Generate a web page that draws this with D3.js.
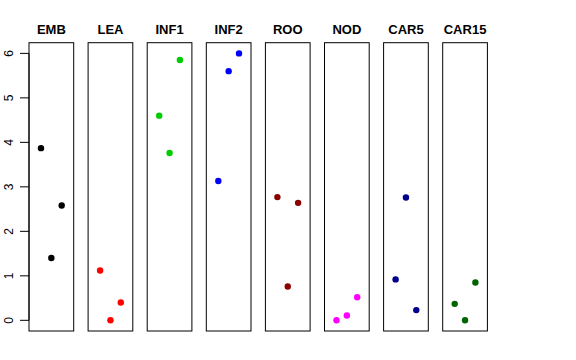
<!DOCTYPE html>
<html>
<head>
<meta charset="utf-8">
<script src="https://cdn.jsdelivr.net/npm/d3@7"></script>
<style>
  body { margin: 0; background: #fff; }
  svg { display: block; font-family: "Liberation Sans", Arial, sans-serif; }
</style>
</head>
<body>
<svg id="plot" width="576" height="360"></svg>
<script>
var tissues = ['EMB', 'LEA', 'INF1', 'INF2', 'ROO', 'NOD', 'CAR5', 'CAR15'];
var colors = ['#000000', '#ff0000', '#00cd00', '#0000ff', '#8b0000', '#ff00ff', '#00008b', '#006400'];
// three replicates per tissue, x slot 1..3 inside each panel
var slots = [
  [1, 3, 2], [1, 3, 2], [3, 1, 2], [3, 2, 1],
  [1, 3, 2], [1, 2, 3], [2, 1, 3], [3, 1, 2]
];
var values = [
  [3.87, 2.58, 1.40],
  [1.12, 0.40, 0.00],
  [5.85, 4.60, 3.76],
  [6.00, 5.60, 3.13],
  [2.77, 2.64, 0.76],
  [0.00, 0.11, 0.52],
  [2.76, 0.92, 0.23],
  [0.85, 0.37, 0.00]
];
var yTicks = [0, 1, 2, 3, 4, 5, 6];

var svg = d3.select('#plot');
var plotTop = 42.7, plotBottom = 331;
var firstLeft = 29, panelW = 44.7, step = 59.1;

var y = d3.scaleLinear().domain([-0.24, 6.24]).range([plotBottom, plotTop]);
var x = d3.scaleLinear().domain([-0.16, 4.16]).range([0, panelW]);

// y axis (left of first panel)
var axis = svg.append('g');
axis.append('line')
  .attr('x1', firstLeft).attr('x2', firstLeft)
  .attr('y1', y(0)).attr('y2', y(6))
  .attr('stroke', '#000');
axis.selectAll('line.tick').data(yTicks).enter().append('line')
  .attr('class', 'tick')
  .attr('x1', 20).attr('x2', firstLeft)
  .attr('y1', function(d) { return y(d); })
  .attr('y2', function(d) { return y(d); })
  .attr('stroke', '#000');
axis.selectAll('text').data(yTicks).enter().append('text')
  .attr('transform', function(d) { return 'translate(13,' + y(d) + ') rotate(-90)'; })
  .attr('text-anchor', 'middle')
  .attr('font-size', 12)
  .text(function(d) { return d; });

tissues.forEach(function(name, i) {
  var left = firstLeft + i * step;
  var g = svg.append('g').attr('transform', 'translate(' + left + ',0)');

  g.append('rect')
    .attr('x', 0).attr('y', plotTop)
    .attr('width', panelW).attr('height', plotBottom - plotTop)
    .attr('fill', 'none').attr('stroke', '#000');

  g.append('text')
    .attr('x', panelW / 2).attr('y', 34)
    .attr('text-anchor', 'middle')
    .attr('font-size', 13).attr('font-weight', 'bold')
    .text(name);

  g.selectAll('circle').data(values[i]).enter().append('circle')
    .attr('cx', function(d, j) { return x(slots[i][j]); })
    .attr('cy', function(d) { return y(d); })
    .attr('r', 3.2)
    .attr('fill', colors[i]);
});
</script>
</body>
</html>
